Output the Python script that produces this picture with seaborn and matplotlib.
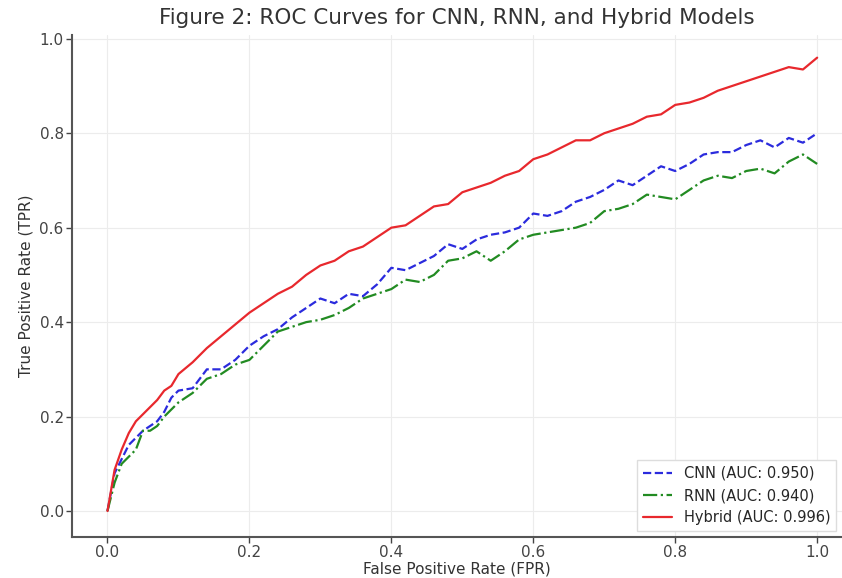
import numpy as np
import pandas as pd
import matplotlib
matplotlib.use("Agg")
import matplotlib.pyplot as plt
import seaborn as sns

# ROC points
fpr = [0.00, 0.01, 0.02, 0.03, 0.04, 0.05, 0.06, 0.07, 0.08, 0.09, 0.10,
       0.12, 0.14, 0.16, 0.18, 0.20, 0.22, 0.24, 0.26, 0.28, 0.30,
       0.32, 0.34, 0.36, 0.38, 0.40, 0.42, 0.44, 0.46, 0.48, 0.50,
       0.52, 0.54, 0.56, 0.58, 0.60, 0.62, 0.64, 0.66, 0.68, 0.70,
       0.72, 0.74, 0.76, 0.78, 0.80, 0.82, 0.84, 0.86, 0.88, 0.90,
       0.92, 0.94, 0.96, 0.98, 1.00]

tpr_cnn = [0.00, 0.08, 0.11, 0.14, 0.155, 0.17, 0.18, 0.19, 0.21, 0.24, 0.255,
           0.26, 0.30, 0.30, 0.32, 0.35, 0.37, 0.385, 0.41, 0.43, 0.45,
           0.44, 0.46, 0.455, 0.48, 0.515, 0.51, 0.525, 0.54, 0.565, 0.555,
           0.575, 0.585, 0.59, 0.60, 0.63, 0.625, 0.635, 0.655, 0.665, 0.68,
           0.70, 0.69, 0.71, 0.73, 0.72, 0.735, 0.755, 0.76, 0.76, 0.775,
           0.785, 0.77, 0.79, 0.78, 0.80]

tpr_rnn = [0.00, 0.06, 0.10, 0.115, 0.13, 0.17, 0.17, 0.18, 0.20, 0.215, 0.23,
           0.25, 0.28, 0.29, 0.31, 0.32, 0.35, 0.38, 0.39, 0.40, 0.405,
           0.415, 0.43, 0.45, 0.46, 0.47, 0.49, 0.485, 0.50, 0.53, 0.535,
           0.55, 0.53, 0.55, 0.575, 0.585, 0.59, 0.595, 0.60, 0.61, 0.635,
           0.64, 0.65, 0.67, 0.665, 0.66, 0.68, 0.70, 0.71, 0.705, 0.72,
           0.725, 0.715, 0.74, 0.755, 0.735]

tpr_hybrid = [0.00, 0.087, 0.13, 0.165, 0.19, 0.205, 0.22, 0.235, 0.255, 0.265, 0.29,
              0.315, 0.345, 0.37, 0.395, 0.42, 0.44, 0.46, 0.475, 0.50, 0.52,
              0.53, 0.55, 0.56, 0.58, 0.60, 0.605, 0.625, 0.645, 0.65, 0.675,
              0.685, 0.695, 0.71, 0.72, 0.745, 0.755, 0.77, 0.785, 0.785, 0.80,
              0.81, 0.82, 0.835, 0.84, 0.86, 0.865, 0.875, 0.89, 0.90, 0.91,
              0.92, 0.93, 0.94, 0.935, 0.96]

labels = ["CNN (AUC: 0.950)", "RNN (AUC: 0.940)", "Hybrid (AUC: 0.996)"]

df = pd.DataFrame({
    "fpr": fpr * 3,
    "tpr": tpr_cnn + tpr_rnn + tpr_hybrid,
    "model": [labels[0]] * len(fpr) + [labels[1]] * len(fpr) + [labels[2]] * len(fpr),
})

sns.set_style("whitegrid", {"grid.color": "#ececec", "axes.edgecolor": "#555555",
                            "xtick.bottom": True, "ytick.left": True})
plt.rcParams["font.family"] = ["DejaVu Sans"]

fig = plt.figure(figsize=(8.42, 5.78), dpi=100)
ax = fig.add_axes([72 / 842, 41 / 578, 770 / 842, 502 / 578])

styles = {labels[0]: ("#2b2bdd", "--"), labels[1]: ("#228b22", "-."), labels[2]: ("#e8282d", "-")}
for name in labels:
    sub = df[df["model"] == name]
    color, ls = styles[name]
    sns.lineplot(data=sub, x="fpr", y="tpr", ax=ax, color=color, linestyle=ls,
                 linewidth=1.6, label=name, estimator=None, sort=False)

ax.set_xlim(-0.05, 1.035)
ax.set_ylim(-0.055, 1.008)
ax.set_xticks([0.0, 0.2, 0.4, 0.6, 0.8, 1.0])
ax.set_yticks([0.0, 0.2, 0.4, 0.6, 0.8, 1.0])
ax.tick_params(colors="#444444", labelsize=11, length=4, width=1, pad=2)
sns.despine(ax=ax)
for s in ["left", "bottom"]:
    ax.spines[s].set_linewidth(1.5)

ax.set_title("Figure 2: ROC Curves for CNN, RNN, and Hybrid Models",
             fontsize=15.5, color="#333333", pad=8)
ax.set_xlabel("False Positive Rate (FPR)", fontsize=11, color="#333333", labelpad=1)
ax.set_ylabel("True Positive Rate (TPR)", fontsize=11, color="#333333", labelpad=4)
ax.legend(loc="lower right", fontsize=10.5, frameon=True, framealpha=1,
          edgecolor="#dddddd", fancybox=False, borderaxespad=0.4)

fig.savefig("out.png", dpi=100)
